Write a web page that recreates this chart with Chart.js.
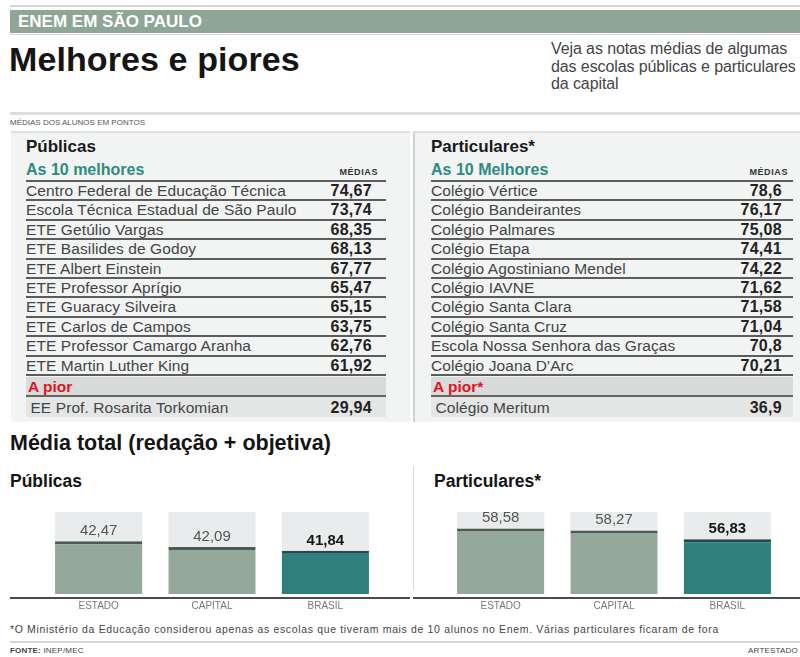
<!DOCTYPE html>
<html><head><meta charset="utf-8">
<script src="https://cdn.jsdelivr.net/npm/chart.js@4/dist/chart.umd.min.js"></script>
<style>
html,body{margin:0;padding:0;background:#fff;}
body{width:800px;height:657px;position:relative;overflow:hidden;font-family:"Liberation Sans",Arial,sans-serif;color:#222;}
.abs{position:absolute;}
.hl{position:absolute;height:2px;background:#d4d6d6;}
.band{left:10px;top:10px;width:790px;height:23px;background:#8fa598;color:#fff;font-weight:bold;font-size:17px;line-height:23px;padding-left:8px;box-sizing:border-box;}
.title{left:9px;top:40px;font-size:34px;font-weight:bold;color:#151515;letter-spacing:0.1px;}
.intro{left:551px;top:40px;font-size:16px;line-height:17.5px;color:#444;letter-spacing:-0.1px;}
.small{font-size:8px;color:#555;}
.panel{top:131px;height:291px;background:#f2f3f3;border-top:2px solid #dfe0e0;box-sizing:border-box;}
.ph{font-size:17px;font-weight:bold;color:#1a1a1a;}
.sub{font-size:16px;font-weight:bold;color:#2e8b7f;}
.med{font-size:9px;font-weight:bold;color:#333;letter-spacing:0.6px;}
.row{position:absolute;height:17.4px;border-bottom:2px solid #5c5c5c;font-size:15.5px;letter-spacing:0.1px;line-height:18px;color:#444;white-space:nowrap;}
.row .v,.prow .v{position:absolute;font-weight:bold;color:#222;font-size:16px;letter-spacing:0.3px;}
.pior{position:absolute;height:18px;background:#d9dada;border-bottom:2px solid #666;color:#e0141e;font-weight:bold;font-size:15.5px;line-height:19px;padding-left:2px;box-sizing:content-box;}
.prow{position:absolute;height:20px;background:#e4e5e5;font-size:15.5px;letter-spacing:0.1px;line-height:21px;color:#444;}
.h2{font-size:21.5px;font-weight:bold;color:#151515;}
.h3{font-size:17.5px;font-weight:bold;color:#151515;}
.foot{font-size:10.5px;letter-spacing:0.65px;color:#444;}
</style></head>
<body>
<div class="hl" style="left:10px;top:5px;width:790px;"></div>
<div class="abs band">ENEM EM SÃO PAULO</div>
<div class="hl" style="left:10px;top:34px;width:790px;height:1px;"></div>
<div class="abs title">Melhores e piores</div>
<div class="abs intro">Veja as notas médias de algumas<br>das escolas públicas e particulares<br>da capital</div>
<div class="hl" style="left:10px;top:112px;width:790px;height:3px;background:#dedede;"></div>
<div class="abs small" style="left:10px;top:118px;">MÉDIAS DOS ALUNOS EM PONTOS</div>

<div class="abs panel" style="left:11px;width:399px;"></div>
<div class="abs panel" style="left:413px;width:387px;border-left:2px solid #d0d1d1;"></div>

<div id="tables"></div>

<div class="abs h2" style="left:10px;top:431px;">Média total (redação + objetiva)</div>
<div class="abs h3" style="left:10px;top:471px;">Públicas</div>
<div class="abs h3" style="left:434px;top:471px;">Particulares*</div>
<div class="abs" style="left:413px;top:466px;width:1px;height:124px;background:#d8d8d8;"></div>

<div class="abs" style="left:42px;top:500px;width:340px;height:118px;"><canvas id="c1"></canvas></div>
<div class="abs" style="left:444px;top:500px;width:340px;height:118px;"><canvas id="c2"></canvas></div>
<div class="abs" style="left:10px;top:597px;width:400px;height:2px;background:#4a4a4a;"></div>
<div class="abs" style="left:413px;top:597px;width:387px;height:2px;background:#4a4a4a;"></div>

<div class="abs foot" style="left:10px;top:623px;">*O Ministério da Educação considerou apenas as escolas que tiveram mais de 10 alunos no Enem. Várias particulares ficaram de fora</div>
<div class="hl" style="left:10px;top:641px;width:790px;height:2px;"></div>
<div class="abs foot" style="left:10px;top:646px;font-size:8px;letter-spacing:0.2px;"><b>FONTE:</b> INEP/MEC</div>
<div class="abs foot" style="right:2px;top:646px;font-size:8px;letter-spacing:0.2px;">ARTESTADO</div>

<script>
// ---- Table data ----
const publicasEscolas = ["Centro Federal de Educação Técnica","Escola Técnica Estadual de São Paulo","ETE Getúlio Vargas","ETE Basilides de Godoy","ETE Albert Einstein","ETE Professor Aprígio","ETE Guaracy Silveira","ETE Carlos de Campos","ETE Professor Camargo Aranha","ETE Martin Luther King"];
const publicasMedias = ["74,67","73,74","68,35","68,13","67,77","65,47","65,15","63,75","62,76","61,92"];
const publicasPior = "EE Prof. Rosarita Torkomian";
const publicasPiorMedia = "29,94";
const particularesEscolas = ["Colégio Vértice","Colégio Bandeirantes","Colégio Palmares","Colégio Etapa","Colégio Agostiniano Mendel","Colégio IAVNE","Colégio Santa Clara","Colégio Santa Cruz","Escola Nossa Senhora das Graças","Colégio Joana D'Arc"];
const particularesMedias = ["78,6","76,17","75,08","74,41","74,22","71,62","71,58","71,04","70,8","70,21"];
const particularesPior = "Colégio Meritum";
const particularesPiorMedia = "36,9";

// ---- Bar chart data ----
const categorias = ["ESTADO","CAPITAL","BRASIL"];
const mediaPublicas = [42.47, 42.09, 41.84];
const mediaParticulares = [58.58, 58.27, 56.83];

function buildTable(x0, x1, vRight, head, sub, names, vals, piorLabel, piorName, piorVal){
  const root = document.getElementById('tables');
  let h = '';
  h += `<div class="abs ph" style="left:${x0}px;top:137px;">${head}</div>`;
  h += `<div class="abs sub" style="left:${x0}px;top:161px;">${sub}</div>`;
  h += `<div class="abs med" style="left:${vRight-60}px;width:66px;text-align:right;top:167px;">MÉDIAS</div>`;
  h += `<div class="abs" style="left:${x0}px;top:180px;width:${x1-x0}px;height:2px;background:#5c5c5c;"></div>`;
  names.forEach((n,i)=>{
    const top = 182 + i*19.4;
    h += `<div class="row" style="left:${x0}px;top:${top}px;width:${x1-x0}px;">${n}<span class="v" style="right:${x1-vRight}px;">${vals[i]}</span></div>`;
  });
  h += `<div class="pior" style="left:${x0}px;top:377px;width:${x1-x0-2}px;">${piorLabel}</div>`;
  h += `<div class="prow" style="left:${x0}px;top:397px;width:${x1-x0}px;">&nbsp;${piorName}<span class="v" style="right:${x1-vRight}px;">${piorVal}</span></div>`;
  root.insertAdjacentHTML('beforeend', h);
}
buildTable(26, 386, 372, "Públicas", "As 10 melhores", publicasEscolas, publicasMedias, "A pior", publicasPior, publicasPiorMedia);
buildTable(431, 793, 782, "Particulares*", "As 10 Melhores", particularesEscolas, particularesMedias, "A pior*", particularesPior, particularesPiorMedia);

// ---- Charts ----
const boxPlugin = {
  id:'boxes',
  beforeDatasetsDraw(chart){
    const ctx = chart.ctx, a = chart.chartArea;
    const meta = chart.getDatasetMeta(0);
    ctx.save(); ctx.fillStyle = '#e9ebec';
    meta.data.forEach(b=>{ ctx.fillRect(b.x - b.width/2, a.top, b.width, a.bottom - a.top); });
    ctx.restore();
  },
  afterDatasetsDraw(chart){
    const ctx = chart.ctx;
    const meta = chart.getDatasetMeta(0);
    const data = chart.data.datasets[0].data;
    ctx.save(); ctx.textAlign='center'; ctx.textBaseline='bottom';
    meta.data.forEach((b,i)=>{
      const last = i === data.length-1;
      ctx.font = (last ? 'bold ' : '') + '15px "Liberation Sans", Arial, sans-serif';
      ctx.fillStyle = last ? '#151515' : '#555';
      ctx.fillText(data[i].toFixed(2).replace('.', ','), b.x, b.y - 3);
    });
    ctx.restore();
  }
};
function makeChart(id, values, ymin, ymax){
  return new Chart(document.getElementById(id), {
    type:'bar',
    data:{labels:categorias, datasets:[{
      data:values,
      backgroundColor:['#94a89b','#94a89b','#2f7f7d'],
      borderColor:['#4d5a52','#4d5a52','#1d4d4b'],
      borderWidth:{top:3,left:0,right:0,bottom:0},
      borderSkipped:false,
      barPercentage:0.77, categoryPercentage:1
    }]},
    options:{
      responsive:true, maintainAspectRatio:false, animation:false,
      layout:{padding:{top:12,bottom:0,left:0,right:0}},
      plugins:{legend:{display:false}, tooltip:{enabled:false}},
      scales:{
        x:{grid:{display:false,drawTicks:false}, border:{display:false},
           ticks:{color:'#777', padding:6, font:{size:10, family:'"Liberation Sans",sans-serif'}}},
        y:{display:false, min:ymin, max:ymax}
      }
    },
    plugins:[boxPlugin]
  });
}
makeChart('c1', mediaPublicas, 39.0, 44.4);
makeChart('c2', mediaParticulares, 47.8, 61.3);
</script>
</body></html>
